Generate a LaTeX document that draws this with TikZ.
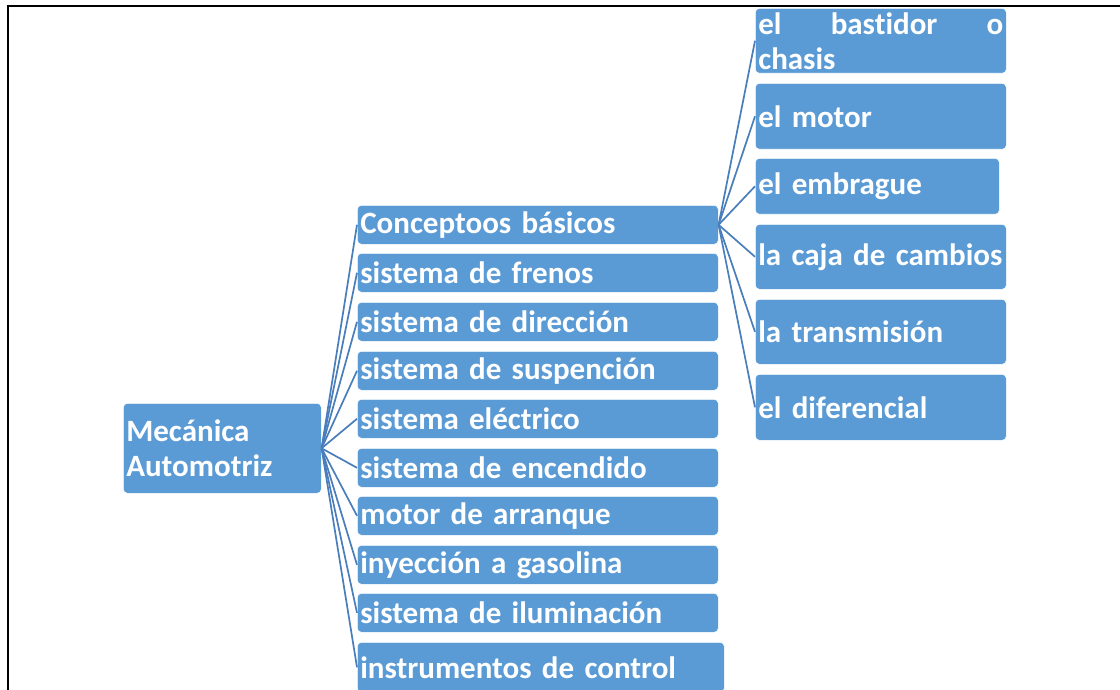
\documentclass[tikz,border=0pt]{standalone}
\usepackage{fontspec}
\setmainfont{Carlito}[BoldFont={Carlito Bold},Ligatures=NoCommon]
\definecolor{boxblue}{HTML}{5B9BD5}
\definecolor{lineblue}{HTML}{4A7EBB}
\begin{document}
\begin{tikzpicture}[x=1pt,y=-1pt,
  box/.style={draw=white,line width=0.6pt,fill=boxblue,rounded corners=4pt,text=white,
    font=\fontsize{31}{35}\selectfont\bfseries,align=left,anchor=north west,inner xsep=3pt,inner ysep=0pt},
  link/.style={draw=lineblue,line width=1.7pt},
  frame/.style={draw=black,line width=1.6pt}]
\clip (0,0) rectangle (1120,690);
\useasboundingbox (0,0) rectangle (1120,690);
% frame
\coordinate (ftl) at (8,6);
\coordinate (ftr) at (1120,6);
\coordinate (fbl) at (8,690);
\draw[frame] (fbl) -- (ftl) -- (ftr);
% root
\node[box,minimum width=198pt,minimum height=90pt,text width=192pt] (root) at (123,403) {Mecánica\\Automotriz};
% middle column
\node[box,minimum width=361pt,minimum height=39pt,text width=355pt] (m1) at (357,205) {Conceptoos básicos};
\node[box,minimum width=361pt,minimum height=39pt,text width=355pt] (m2) at (357,253) {sistema de frenos};
\node[box,minimum width=361pt,minimum height=39pt,text width=355pt] (m3) at (357,302) {sistema de dirección};
\node[box,minimum width=361pt,minimum height=39pt,text width=355pt] (m4) at (357,351) {sistema de suspención};
\node[box,minimum width=361pt,minimum height=39pt,text width=355pt] (m5) at (357,399) {sistema eléctrico};
\node[box,minimum width=361pt,minimum height=39pt,text width=355pt] (m6) at (357,448) {sistema de encendido};
\node[box,minimum width=361pt,minimum height=39pt,text width=355pt] (m7) at (357,496) {motor de arranque};
\node[box,minimum width=361pt,minimum height=39pt,text width=355pt] (m8) at (357,545) {inyección a gasolina};
\node[box,minimum width=361pt,minimum height=39pt,text width=355pt] (m9) at (357,593) {sistema de iluminación};
\node[box,minimum width=367pt,minimum height=50pt,text width=361pt] (m10) at (357,642) {instrumentos de control};
% right column
\node[box,minimum width=251pt,minimum height=65pt,text width=245pt] (r1) at (755,8) {el\hfill bastidor\hfill o\\chasis};
\node[box,minimum width=251pt,minimum height=66pt,text width=245pt] (r2) at (755,83) {el motor};
\node[box,minimum width=244pt,minimum height=56pt,text width=238pt] (r3) at (755,158) {el embrague};
\node[box,minimum width=251pt,minimum height=65pt,text width=245pt] (r4) at (755,224) {la caja de cambios};
\node[box,minimum width=251pt,minimum height=65pt,text width=245pt] (r5) at (755,299) {la transmisión};
\node[box,minimum width=251pt,minimum height=66pt,text width=245pt] (r6) at (755,374) {el diferencial};
% connectors
\foreach \n in {m1,m2,m3,m4,m5,m6,m7,m8,m9,m10}{\draw[link] (root.east) -- (\n.west);}
\foreach \n in {r1,r2,r3,r4,r5,r6}{\draw[link] (m1.east) -- (\n.west);}
\end{tikzpicture}
\end{document}
